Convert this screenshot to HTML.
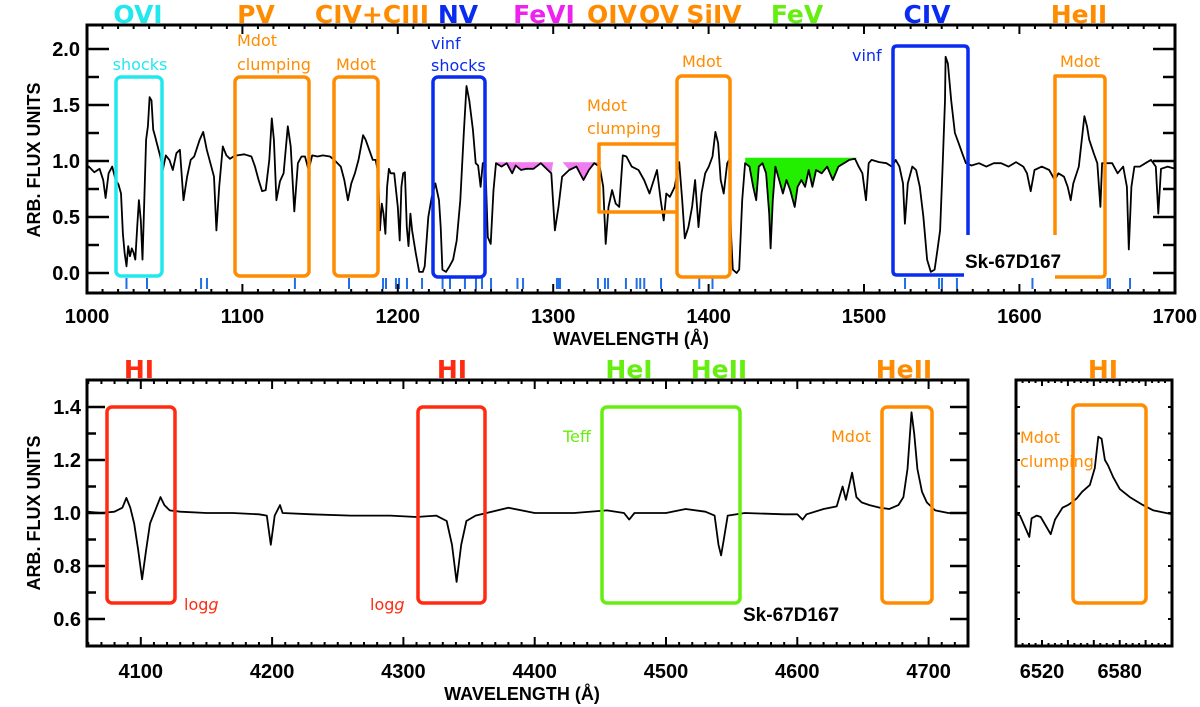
<!DOCTYPE html>
<html><head><meta charset="utf-8"><title>Sk-67D167 spectrum</title>
<style>
html,body{margin:0;padding:0;background:#fff;}
svg{display:block;}
.ax{font-family:"Liberation Sans",sans-serif;font-size:20px;font-weight:bold;fill:#000;}
.axt{font-family:"Liberation Sans",sans-serif;font-size:18px;font-weight:bold;fill:#000;}
.big{font-family:"DejaVu Sans","Liberation Sans",sans-serif;font-size:25px;font-weight:bold;}
.sm{font-family:"DejaVu Sans","Liberation Sans",sans-serif;font-size:16px;}
.sk{font-family:"Liberation Sans",sans-serif;font-size:19px;font-weight:bold;fill:#000;}
</style></head>
<body>
<svg id="fig" width="1200" height="707" viewBox="0 0 1200 707" xmlns="http://www.w3.org/2000/svg">
<defs>
<clipPath id="c1"><rect x="87" y="25" width="1088" height="268"/></clipPath>
<clipPath id="c2"><rect x="87" y="380" width="881" height="266"/></clipPath>
<clipPath id="c3"><rect x="1016" y="380" width="156" height="266"/></clipPath>
</defs>
<g id="g1"></g>
<g id="g2"></g>
<g id="g3"></g>
<g id="ann"></g>
</svg>
<script>
// ---- UV spectrum (top) ----
const uvWave = [1000,1001.2,1004.7,1008.1,1010.4,1012,1013.9,1016.2,1018.5,1020.3,1021.9,1023.1,1024.2,1025.4,1026.5,1027.7,1028.8,1030,1031.1,1032.3,1033.4,1034.6,1035.7,1036.9,1038,1039.2,1040.3,1041.5,1042.6,1043.8,1044.9,1047.2,1048.8,1050.7,1053,1055.2,1057.5,1059.8,1062.1,1064.4,1066.7,1069,1072.5,1074.8,1077.1,1079.4,1081.7,1083.3,1085.1,1087.4,1089.7,1092,1094.3,1096.6,1101.2,1105.8,1108.1,1110.4,1112.7,1115,1117.3,1118.9,1120.3,1121.9,1124.2,1126.5,1129.2,1131.1,1133.4,1135.7,1138,1140.3,1142.6,1144.9,1148.3,1151.8,1156.4,1159.1,1163.3,1165.6,1167.9,1170.1,1172.4,1174.7,1177.7,1179.3,1181.6,1183.9,1185.8,1187.4,1188.5,1189.7,1190.8,1192,1193.1,1194.3,1195.4,1197.7,1200,1201.2,1202.3,1203.5,1204.6,1205.8,1206.9,1208.1,1209.2,1211.5,1213.8,1216.1,1217.3,1219.6,1221.9,1224.2,1226.5,1227.6,1228.7,1231,1233.3,1235.6,1237.9,1240.2,1242.5,1244.2,1246,1248.3,1250.1,1251.7,1253.3,1254.7,1256.3,1257.9,1259.8,1261.6,1263.2,1266.7,1270.1,1273.6,1275.9,1279.3,1282.8,1287.3,1292,1296.5,1298.8,1301.1,1303.4,1305.7,1310.3,1314.9,1319.5,1323,1326.4,1329.9,1332.2,1333.8,1335.6,1337.9,1340.2,1342.5,1344.8,1347.1,1350.5,1354.9,1358.5,1362,1366.8,1369.2,1371.1,1372.8,1375.1,1378.2,1381.1,1383,1384.7,1387,1389.4,1391.3,1393.5,1395.4,1397.8,1400.1,1402.5,1404.4,1406.1,1407.8,1409.7,1412,1413.2,1414.4,1415.6,1418,1419.7,1421.6,1423.5,1426.3,1428.7,1430.6,1432.3,1434.7,1437,1439,1439.9,1441.3,1443,1445.4,1447.8,1450.1,1452.5,1455.4,1457.3,1459.7,1462.1,1464.4,1466.8,1469.2,1472.8,1476.3,1479.9,1483.5,1487.1,1490.6,1494.2,1496.6,1499,1501.3,1503,1504.9,1509.7,1514.4,1518,1520.4,1522.8,1525.1,1526.3,1528.2,1531.1,1533.5,1535.9,1538.2,1540.6,1543,1545.4,1547.3,1549,1550.6,1552.1,1552.5,1554,1556.1,1558.5,1560.9,1563.2,1565.6,1569.2,1574,1578.7,1583.5,1588.2,1593,1597.8,1602.5,1604.9,1607.3,1609.7,1614.4,1619.2,1622.8,1625.1,1628.7,1631.1,1633,1634.7,1638.2,1641.8,1643.5,1644.9,1647.8,1650.1,1652.1,1653.2,1656.1,1659.7,1663.2,1666.8,1669.2,1670.4,1672.1,1674,1677.5,1681.1,1684.7,1687.8,1689.4,1691.1,1695.4,1700];
const uvFlux = [0.93,0.95,0.90,0.93,0.83,0.67,0.89,0.95,0.83,0.79,0.71,0.35,0.18,0.06,0.24,0.15,0.22,0.18,0.12,0.41,0.65,0.47,0.12,0.65,1.19,1.31,1.57,1.54,1.28,1.22,1.16,1.04,0.92,1.05,1.01,0.92,1.07,1.10,0.65,0.86,1.01,1.04,1.19,1.26,1.10,0.98,0.86,0.38,0.77,1.13,1.05,1.02,1.04,1.05,1.06,1.04,0.95,0.83,0.73,0.74,1.01,1.38,1.19,0.65,0.82,0.89,1.31,1.13,0.55,0.98,1.04,1.04,0.92,1.05,1.04,1.05,1.04,1.01,0.95,0.83,0.65,0.80,0.89,1.01,1.23,1.19,1.10,1.01,1.01,0.89,0.38,0.62,0.53,0.35,0.77,0.93,0.89,0.89,0.59,0.29,0.77,0.89,0.90,0.41,0.24,0.53,0.38,0.18,0.01,0.01,0.06,0.50,0.68,0.80,0.65,0.41,0.03,0.01,0.06,0.12,0.29,0.65,1.25,1.67,1.54,1.28,0.98,0.96,0.77,0.98,0.99,0.32,0.26,0.74,0.98,0.95,0.98,0.89,0.96,0.92,0.93,0.93,0.98,0.92,0.89,0.38,0.59,0.86,0.92,0.95,0.83,0.92,0.98,0.95,0.77,0.26,0.59,0.74,0.62,0.59,1.05,1.04,0.95,0.92,0.83,0.71,0.92,0.65,0.47,0.71,0.68,0.77,0.99,0.65,0.31,0.41,0.59,0.83,0.41,0.71,0.89,0.95,1.04,1.26,1.16,0.83,0.71,0.98,1.01,0.35,0.03,0.00,0.03,0.65,0.98,0.95,0.77,0.65,0.95,0.98,0.89,0.53,0.22,0.65,0.95,0.83,0.71,0.83,0.74,0.59,0.77,0.83,0.77,0.92,0.77,0.92,0.89,0.95,0.83,0.95,0.98,1.01,1.02,0.95,0.89,0.65,0.98,1.01,0.99,0.98,0.95,1.01,0.95,0.80,0.44,0.80,0.95,0.92,0.77,0.50,0.12,0.01,0.03,0.21,0.38,0.95,1.54,1.93,1.87,1.54,1.25,1.16,1.07,0.98,0.96,0.98,0.95,0.98,0.98,0.95,0.99,0.95,0.89,0.73,0.92,0.95,0.92,0.83,0.89,0.86,0.77,0.65,0.80,0.95,1.40,1.31,1.19,1.07,0.98,0.59,0.98,0.98,0.98,0.89,0.95,0.77,0.21,0.77,0.95,0.95,0.98,1.01,0.95,0.53,0.93,0.95,0.93];
const uvLineMarks = [1025.4,1038.6,1073.4,1077.2,1133.8,1168.6,1190.5,1192.4,1198.8,1200.8,1205.9,1215.6,1228.8,1233.6,1243.2,1250.3,1254.2,1260,1277,1280.6,1302.4,1303.5,1304.4,1328.8,1333.3,1335.3,1346.8,1353.7,1356,1358.6,1369.4,1394,1402.5,1526.4,1548.3,1550.2,1559.8,1608.4,1656.8,1658.3,1671.2];
const uvXTicks = [1000,1100,1200,1300,1400,1500,1600,1700];
const uvYTicks = [0.0,0.5,1.0,1.5,2.0];
const feviRanges = [[1263,1300],[1306,1331]];
const fevRanges = [[1423.5,1496]];
// ---- optical (bottom) ----
const optWave = [4059,4070,4080,4086,4089,4092,4095,4098,4101,4104,4107,4111,4115,4118,4122,4130,4150,4170,4190,4196,4199,4202,4206,4208,4230,4260,4290,4310,4325,4333,4337,4340.5,4344,4348,4355,4380,4400,4430,4455,4468,4472,4476,4500,4515,4530,4537,4540,4542,4544,4547,4560,4590,4600,4604,4607,4620,4630,4634.5,4637,4641.7,4645,4649,4655,4663,4670,4677,4680.8,4683.9,4687,4689,4691.5,4695,4698.6,4705,4715,4730];
const optFlux = [1.005,1.0,1.005,1.02,1.057,1.02,0.96,0.86,0.75,0.86,0.96,1.01,1.06,1.03,1.01,1.005,1.0,1.0,0.995,0.99,0.88,0.99,1.03,1.0,0.995,0.99,0.99,0.985,0.99,0.97,0.88,0.74,0.88,0.97,0.99,1.02,1.0,1.0,1.01,1.0,0.975,1.0,1.0,1.015,1.005,0.99,0.88,0.84,0.9,0.99,1.0,0.995,0.995,0.975,0.995,1.015,1.025,1.10,1.05,1.152,1.06,1.04,1.03,1.02,1.015,1.03,1.06,1.166,1.38,1.30,1.166,1.08,1.04,1.01,1.0,1.0];
const optXTicks = [4100,4200,4300,4400,4500,4600,4700];
const optYTicks = [0.6,0.8,1.0,1.2,1.4];
// ---- H-alpha ----
const haWave = [6500.5,6503,6510.2,6512,6516,6519,6526.7,6530,6535.8,6540,6543,6546.8,6551,6557,6560.8,6563.5,6566,6568.6,6571,6575,6580.1,6587.8,6598,6606,6620];
const haFlux = [0.996,0.99,0.91,0.98,0.99,0.985,0.92,0.975,1.02,1.03,1.04,1.055,1.08,1.106,1.17,1.288,1.28,1.2,1.18,1.135,1.09,1.06,1.03,1.01,0.996];
const haXTicks = [6520,6580];

const NS="http://www.w3.org/2000/svg";
function mk(tag,attrs,parent){const e=document.createElementNS(NS,tag);for(const k in attrs)e.setAttribute(k,attrs[k]);parent.appendChild(e);return e;}
const X1=w=>87+(w-1000)*1.554, Y1=f=>273-f*112;
const X2=w=>666+(w-4500)*1.313, Y2=f=>513-(f-1)*265;
const X3=w=>1042+(w-6520)*1.295;
const g1=document.getElementById('g1'),g2=document.getElementById('g2'),g3=document.getElementById('g3'),ann=document.getElementById('ann');

function fillRange(r,ref,color,name){
  let pts=[[X1(r[0]),Y1(ref)]];
  uvWave.forEach((w,i)=>{if(w>=r[0]&&w<=r[1])pts.push([X1(w),Y1(uvFlux[i])]);});
  pts.push([X1(r[1]),Y1(ref)]);
  const cp=mk('clipPath',{id:'cl'+name},document.querySelector('defs'));
  mk('rect',{x:X1(r[0]),y:Y1(ref),width:X1(r[1])-X1(r[0]),height:200},cp);
  const p=mk('polygon',{points:pts.map(p=>p.join(',')).join(' '),fill:color,'clip-path':'url(#cl'+name+')'},g1);
  
  
}
feviRanges.forEach((r,i)=>fillRange(r,0.99,'#f07cf0','fevi-fill-'+i));
fevRanges.forEach((r,i)=>fillRange(r,1.03,'#22ee00','fev-fill-'+i));

function line(g,xs,ys,fx,fy,clip,name){
  const d=xs.map((w,i)=>(i?'L':'M')+fx(w).toFixed(1)+','+fy(ys[i]).toFixed(1)).join('');
  const p=mk('path',{d:d,fill:'none',stroke:'#000','stroke-width':1.8,'stroke-linejoin':'round','clip-path':'url(#'+clip+')'},g);
  
  
}
line(g1,uvWave,uvFlux,X1,Y1,'c1','uv-spectrum-line');
line(g2,optWave,optFlux,X2,Y2,'c2','optical-spectrum-line');
line(g3,haWave,haFlux,X3,Y2,'c3','halpha-spectrum-line');

uvLineMarks.forEach(w=>{
  const l=mk('line',{x1:X1(w),x2:X1(w),y1:278,y2:289,stroke:'#1f6fe8','stroke-width':2},g1);
  
  
});

function frame(g,x,y,w,h,name){const r=mk('rect',{x:x,y:y,width:w,height:h,fill:'none',stroke:'#000','stroke-width':3},g);}
frame(g1,87,25,1088,268,'uv-plot-frame');
for(let w=1000;w<=1700;w+=10){const maj=w%100===0;mk('line',{x1:X1(w),x2:X1(w),y1:293,y2:293-(maj?9:4),stroke:'#000','stroke-width':2},g1);mk('line',{x1:X1(w),x2:X1(w),y1:25,y2:25+(maj?9:4),stroke:'#000','stroke-width':2},g1);}
for(let f=0;f<=2.01;f+=0.25){const maj=Math.abs(f*2-Math.round(f*2))<0.01;mk('line',{x1:87,x2:87+(maj?22:12),y1:Y1(f),y2:Y1(f),stroke:'#000','stroke-width':2.5},g1);mk('line',{x1:1175,x2:1175-(maj?22:12),y1:Y1(f),y2:Y1(f),stroke:'#000','stroke-width':2.5},g1);}
uvXTicks.forEach(w=>{const t=mk('text',{x:X1(w),y:323,'text-anchor':'middle',class:'ax'},g1);t.textContent=w;});
uvYTicks.forEach(f=>{const t=mk('text',{x:80,y:Y1(f)+7,'text-anchor':'end',class:'ax'},g1);t.textContent=f.toFixed(1);});

frame(g2,87,380,881,266,'optical-plot-frame');
for(let w=4060;w<=4730;w+=10){const maj=w%100===0;mk('line',{x1:X2(w),x2:X2(w),y1:646,y2:646-(maj?9:4),stroke:'#000','stroke-width':2},g2);mk('line',{x1:X2(w),x2:X2(w),y1:380,y2:380+(maj?9:4),stroke:'#000','stroke-width':2},g2);}
for(let k=6;k<=14;k++){const f=k/10;const maj=k%2===0;mk('line',{x1:87,x2:87+(maj?18:9),y1:Y2(f),y2:Y2(f),stroke:'#000','stroke-width':2.5},g2);mk('line',{x1:968,x2:968-(maj?18:9),y1:Y2(f),y2:Y2(f),stroke:'#000','stroke-width':2.5},g2);}
optXTicks.forEach(w=>{const t=mk('text',{x:X2(w),y:678,'text-anchor':'middle',class:'ax'},g2);t.textContent=w;});
optYTicks.forEach(f=>{const t=mk('text',{x:81,y:Y2(f)+7,'text-anchor':'end',class:'ax'},g2);t.textContent=f.toFixed(1);});

frame(g3,1016,380,156,266,'halpha-plot-frame');
for(let w=6500;w<=6620;w+=5){const maj=w%20===0;mk('line',{x1:X3(w),x2:X3(w),y1:646,y2:646-(maj?6:3),stroke:'#000','stroke-width':2},g3);mk('line',{x1:X3(w),x2:X3(w),y1:380,y2:380+(maj?6:3),stroke:'#000','stroke-width':2},g3);}
for(let k=6;k<=14;k++){const f=k/10;mk('line',{x1:1016,x2:1020,y1:Y2(f),y2:Y2(f),stroke:'#000','stroke-width':2},g3);mk('line',{x1:1172,x2:1168,y1:Y2(f),y2:Y2(f),stroke:'#000','stroke-width':2},g3);}
haXTicks.forEach(w=>{const t=mk('text',{x:X3(w),y:678,'text-anchor':'middle',class:'ax'},g3);t.textContent=w;});

function box(x,y,w,h,c,name){const r=mk('rect',{x:x,y:y,width:w,height:h,rx:5,fill:'none',stroke:c,'stroke-width':3.5},ann);}
function path(d,c,name){const p=mk('path',{d:d,fill:'none',stroke:c,'stroke-width':3.5,'stroke-linejoin':'round'},ann);}
const OR='#ff8c00',CY='#22e8ee',BL='#0a2cf0',RD='#ff2a10',GR='#66ee11';
box(116,77,46,199,CY,'ovi-box');
box(235,77,74,199,OR,'pv-box');
box(334,77,44,199,OR,'civ-ciii-box');
box(433,77,52,200,BL,'nv-box');
path('M677,144 L599,144 L599,212 L677,212','#ff8c00','ov-box');
box(677,76,53,201,OR,'siiv-box');
path('M968,235 L968,50 Q968,46 964,46 L897,46 Q893,46 893,50 L893,271 Q893,275 897,275 L964,275','#0a2cf0','civ-box');
path('M1055,235 L1055,76 L1101,76 Q1105,76 1105,80 L1105,273 Q1105,277 1101,277 L1055,277','#ff8c00','heii-uv-box');
box(107,407,68,196,RD,'hdelta-box');
box(418,407,67,196,RD,'hgamma-box');
box(602,407,138,196,GR,'he-teff-box');
box(882,407,50,196,OR,'heii4686-box');
box(1073,405,73,198,OR,'halpha-box');

function txt(x,y,s,cls,c,name,anchor){const t=mk('text',{x:x,y:y,class:cls,fill:c,'text-anchor':anchor||'start'},ann);t.textContent=s;return t;}
txt(138,23,'OVI','big',CY,'ovi-label','middle');
txt(256,23,'PV','big',OR,'pv-label','middle');
txt(372,23,'CIV+CIII','big',OR,'civ-ciii-label','middle');
txt(458,23,'NV','big',BL,'nv-label','middle');
txt(544,23,'FeVI','big','#ee22ee','fevi-label','middle');
txt(612,23,'OIV','big',OR,'oiv-label','middle');
txt(659,23,'OV','big',OR,'ov-label','middle');
txt(714,23,'SiIV','big',OR,'siiv-label','middle');
txt(797,23,'FeV','big',GR,'fev-label','middle');
txt(927,23,'CIV','big',BL,'civ-label','middle');
txt(1079,23,'HeII','big',OR,'heii-uv-label','middle');
txt(140,70,'shocks','sm',CY,'shocks-label','middle');
txt(237,46,'Mdot','sm',OR,'pv-mdot-label');
txt(237,70,'clumping','sm',OR,'pv-clumping-label');
txt(356,70,'Mdot','sm',OR,'civ-ciii-mdot-label','middle');
txt(431,49,'vinf','sm',BL,'nv-vinf-label');
txt(431,71,'shocks','sm',BL,'nv-shocks-label');
txt(587,111,'Mdot','sm',OR,'ov-mdot-label');
txt(587,134,'clumping','sm',OR,'ov-clumping-label');
txt(702,67,'Mdot','sm',OR,'siiv-mdot-label','middle');
txt(852,61,'vinf','sm',BL,'civ-vinf-label');
txt(1080,67,'Mdot','sm',OR,'heii-uv-mdot-label','middle');
txt(965,268,'Sk-67D167','sk','#000','star-name-uv');
const l1=txt(184,610,'log','sm',RD,'hdelta-logg-label');const s1=mk('tspan',{'font-style':'italic'},l1);s1.textContent='g';
const l2=txt(370,610,'log','sm',RD,'hgamma-logg-label');const s2=mk('tspan',{'font-style':'italic'},l2);s2.textContent='g';
txt(563,442,'Teff','sm',GR,'teff-label');
txt(831,442,'Mdot','sm',OR,'heii4686-mdot-label');
txt(743,621,'Sk-67D167','sk','#000','star-name-optical');
txt(1020,443,'Mdot','sm',OR,'halpha-mdot-label');
txt(1020,467,'clumping','sm',OR,'halpha-clumping-label');
txt(139,378,'HI','big',RD,'hdelta-label','middle');
txt(452,378,'HI','big',RD,'hgamma-label','middle');
txt(629,378,'HeI','big',GR,'hei-label','middle');
txt(719,378,'HeII','big',GR,'heii4542-label','middle');
txt(904,378,'HeII','big',OR,'heii4686-label','middle');
txt(1103,378,'HI','big',OR,'halpha-label','middle');
const yt1=txt(0,0,'ARB. FLUX UNITS','axt','#000','uv-y-axis-title','middle');yt1.setAttribute('transform','translate(40,160) rotate(-90)');
const yt2=txt(0,0,'ARB. FLUX UNITS','axt','#000','optical-y-axis-title','middle');yt2.setAttribute('transform','translate(40,513) rotate(-90)');
txt(631,345,'WAVELENGTH (Å)','axt','#000','uv-x-axis-title','middle');
txt(522,700,'WAVELENGTH (Å)','axt','#000','optical-x-axis-title','middle');
</script>
</body></html>
